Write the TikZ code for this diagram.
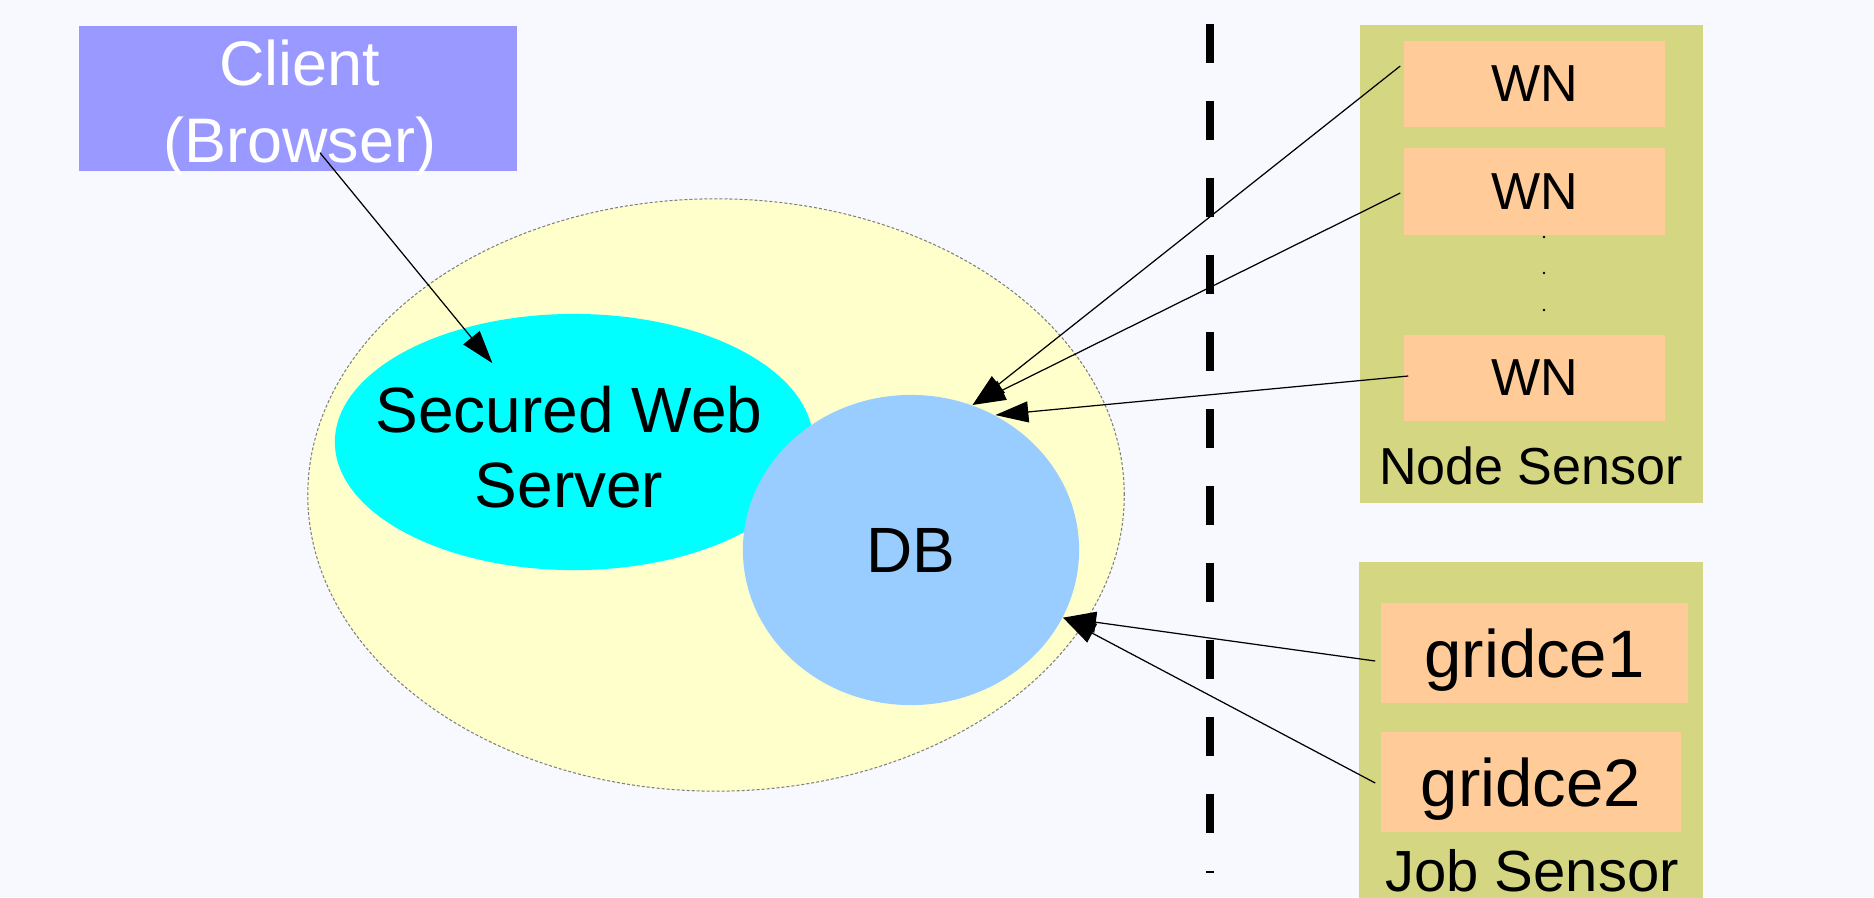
\documentclass[tikz,border=0pt]{standalone}
\usepackage{fontspec}
\setmainfont{Liberation Sans}
\usetikzlibrary{arrows.meta, positioning, calc, shapes.geometric}
\definecolor{mBg}{HTML}{F8F8FF}
\definecolor{mClient}{HTML}{9999FF}
\definecolor{mSite}{HTML}{FFFFCC}
\definecolor{mWeb}{HTML}{00FFFF}
\definecolor{mDb}{HTML}{99CCFF}
\definecolor{mSensor}{HTML}{D4D682}
\definecolor{mHost}{HTML}{FFCC99}
\newcommand{\fsz}[2]{\fontsize{#1pt}{#2pt}\selectfont}

\begin{document}
\begin{tikzpicture}[x=0.01cm, y=-0.01cm,
    link/.style={-{Triangle[length=0.33cm, width=0.21cm]}, line width=0.35pt},
    host/.style={fill=mHost, inner sep=0pt, text depth=0pt},
    sensor/.style={fill=mSensor, minimum width=3.43cm, inner sep=0pt}]
  \fill[mBg] (0,0) rectangle (1874,897);
  \useasboundingbox (0,0) rectangle (1874,897);

  % client side
  \node[fill=mClient, minimum width=4.38cm, minimum height=1.45cm, inner sep=0pt] (client) at (298,98.5) {};
  \node[white, align=center, font=\fsz{17.9}{21.9}] (cltext) at (300,108) {Client\\(Browser)};

  % server site
  \node[ellipse, fill=mSite, draw=gray, dash pattern=on 0.03cm off 0.02cm, line width=0.3pt,
        minimum width=8.16cm, minimum height=5.92cm, inner sep=0pt] (site) at (716,495) {};
  \node[ellipse, fill=mWeb, minimum width=4.78cm, minimum height=2.56cm, inner sep=0pt] (server) at (574,442) {};
  \node[align=center, font=\fsz{18.2}{21.3}] (srvtext) at (569,447) {Secured Web\\Server};
  \node[ellipse, fill=mDb, minimum width=3.36cm, minimum height=3.10cm, inner sep=0pt,
        font=\fsz{18.2}{18.2}] (db) at (911,550) {DB};

  % separator
  \draw[line width=0.08cm, dash pattern=on 0.385cm off 0.385cm] (1210,24) -- (1210,873);

  % node sensor
  \node[sensor, minimum height=4.78cm] (nodesens) at (1531.5,264) {};
  \foreach \y [count=\i] in {84,191.5,378}
    \node[host, minimum width=2.61cm, minimum height=0.86cm, font=\fsz{14.8}{14.8}] (wn\i) at (1534.5,\y) {WN};
  \foreach \y in {237,273,310}
    \fill (1544,\y) circle (0.4pt);
  \node[anchor=base, font=\fsz{14.8}{14.8}] (nslabel) at (1531,484) {Node Sensor};

  % job sensor
  \node[sensor, minimum height=3.5cm] (jobsens) at (1531,737) {};
  \node[host, minimum width=3.07cm, minimum height=1cm, font=\fsz{19.1}{19.1}] (ce1) at (1534.5,653) {gridce1};
  \node[host, minimum width=3.00cm, minimum height=1cm, font=\fsz{19.1}{19.1}] (ce2) at (1531,782) {gridce2};
  \node[anchor=base, font=\fsz{16.5}{16.5}] (jslabel) at (1532,891) {Job Sensor};

  % connectors
  \draw[link] ($(client.south)+(22,-19)$) -- ($(server.center)!0.7!(server.136)$);
  \draw[link] ($(wn1.west)+(-3,-18)$) -- (db.67);
  \draw[link] ($(wn2.west)+(-3,1.5)$) -- (db.67);
  \draw[link] ($(wn3.west)+(5,-2)$) -- (db.58);
  \draw[link] ($(ce1.west)+(-5,8)$) -- (db.-24);
  \draw[link] ($(ce2.west)+(-5,1)$) -- (db.-24);
\end{tikzpicture}
\end{document}
